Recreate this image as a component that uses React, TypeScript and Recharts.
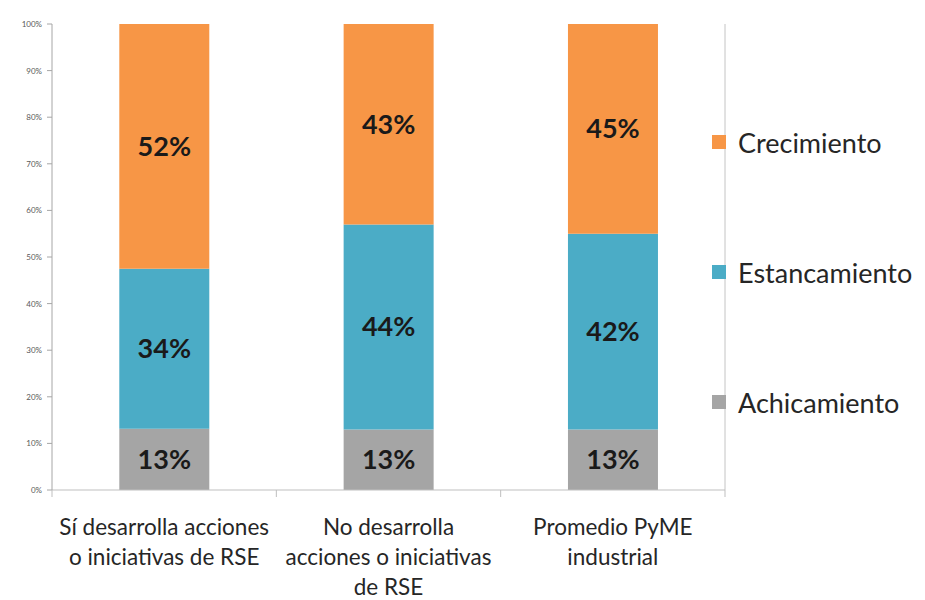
import { Bar, BarChart, LabelList, ReferenceLine, XAxis, YAxis } from "recharts";

const categories = [
  "Sí desarrolla acciones\no iniciativas de RSE",
  "No desarrolla\nacciones o iniciativas\nde RSE",
  "Promedio PyME\nindustrial"
];
const achicamiento = [13, 13, 13];
const estancamiento = [34, 44, 42];
const crecimiento = [52, 43, 45];

const yTicks = [0, 0.1, 0.2, 0.3, 0.4, 0.5, 0.6, 0.7, 0.8, 0.9, 1];
const yTickLabels = ["0%", "10%", "20%", "30%", "40%", "50%", "60%", "70%", "80%", "90%", "100%"];

// stacking order, bottom to top
const series = [
  { key: "achicamiento", name: "Achicamiento", color: "#A5A5A5" },
  { key: "estancamiento", name: "Estancamiento", color: "#4BACC6" },
  { key: "crecimiento", name: "Crecimiento", color: "#F79646" }
];

// separator drawn between the 2nd and 3rd group
const separatorAt = 2;

const data = categories.map((name, i) => ({
  name,
  achicamiento: achicamiento[i],
  estancamiento: estancamiento[i],
  crecimiento: crecimiento[i]
}));

const font = "Lato, 'Open Sans', sans-serif";

function CategoryTick(props: any) {
  const { x, y, payload, index } = props;
  const half = payload.offset ?? 0;
  const lines = String(payload.value).split("\n");
  return (
    <g>
      <line x1={x - half} y1={y} x2={x - half} y2={y + 7} stroke="#bfbfbf" />
      {index === categories.length - 1 && (
        <line x1={x + half} y1={y} x2={x + half} y2={y + 7} stroke="#bfbfbf" />
      )}
      <text x={x} y={y + 45} textAnchor="middle" fill="#262626" fontSize={22.5} fontFamily={font}>
        {lines.map((line, i) => (
          <tspan key={i} x={x} dy={i === 0 ? 0 : 30}>
            {line}
          </tspan>
        ))}
      </text>
    </g>
  );
}

function YTick(props: any) {
  const { x, y, payload } = props;
  const i = yTicks.indexOf(payload.value);
  return (
    <text x={x - 3} y={y + 3} textAnchor="end" fill="#595959" fontSize={8} fontFamily={font}>
      {yTickLabels[i]}
    </text>
  );
}

function LegendBox() {
  return (
    <div style={{ position: "absolute", left: 712, top: 125, width: 213, fontFamily: font }}>
      {[...series].reverse().map((s) => (
        <div key={s.key} style={{ display: "flex", alignItems: "center", height: 34, marginBottom: 96 }}>
          <span style={{ width: 14, height: 14, background: s.color, display: "inline-block", marginRight: 12 }} />
          <span style={{ fontSize: 27, color: "#262626", whiteSpace: "nowrap" }}>{s.name}</span>
        </div>
      ))}
    </div>
  );
}

export default function App() {
  return (
    <div style={{ position: "absolute", left: 0, top: 0, width: 925, height: 600, background: "#fff" }}>
      <BarChart
        width={925}
        height={600}
        data={data}
        stackOffset="expand"
        barCategoryGap="30%"
        margin={{ top: 24, right: 200, left: 0, bottom: 0 }}
      >
        <XAxis
          dataKey="name"
          height={110}
          interval={0}
          tickLine={false}
          tickSize={0}
          tickMargin={0}
          stroke="#bfbfbf"
          tick={<CategoryTick />}
        />
        <XAxis xAxisId="sep" type="number" domain={[0, 3]} hide />
        <YAxis
          width={52}
          domain={[0, 1]}
          ticks={yTicks}
          interval={0}
          tickSize={5}
          stroke="#a6a6a6"
          tick={<YTick />}
        />
        <ReferenceLine xAxisId="sep" x={separatorAt} stroke="#c4c4c4" strokeWidth={1} />
        {series.map((s) => (
          <Bar key={s.key} dataKey={s.key} name={s.name} stackId="a" fill={s.color} isAnimationActive={false}>
            <LabelList
              dataKey={s.key}
              position="center"
              formatter={(v: any) => `${v}%`}
              fill="#1a1a1a"
              fontSize={27}
              fontWeight="bold"
              fontFamily={font}
            />
          </Bar>
        ))}
      </BarChart>
      <LegendBox />
    </div>
  );
}
